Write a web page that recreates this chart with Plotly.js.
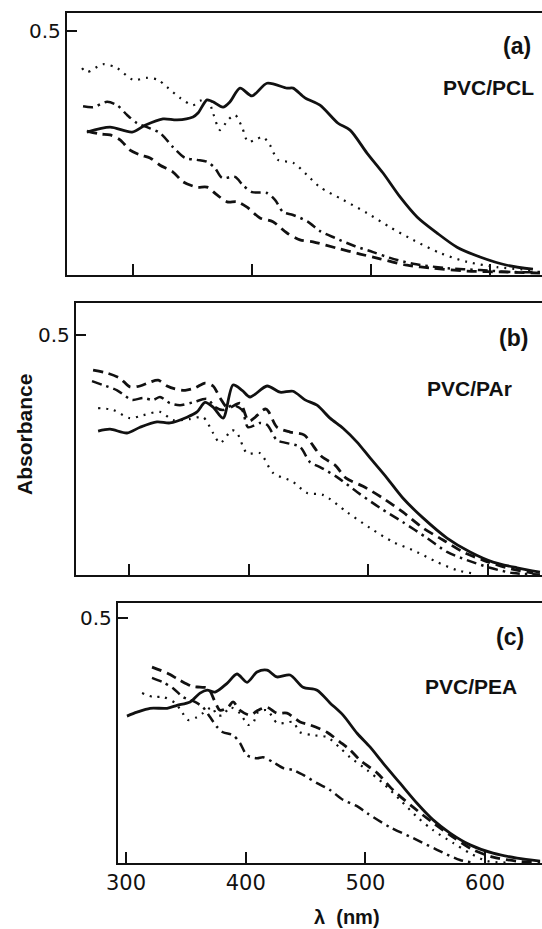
<!DOCTYPE html>
<html>
<head>
<meta charset="utf-8">
<script src="https://cdn.plot.ly/plotly-3.0.1.min.js"></script>
<style>html,body{margin:0;padding:0;background:#fff;}#chart{width:542px;height:929px;}</style>
</head>
<body>
<div id="chart"></div>
<script>
// ---------- Panel (a) PVC/PCL ----------
const aSolidX = [261.3,280.7,299.2,310.1,325.2,337.0,350.4,354.6,362.2,367.2,375.6,381.5,389.9,400.0,412.6,429.4,434.5,444.5,457.1,472.3,482.4,496.6,510.1,524.4,538.7,555.5,572.3,591.6,614.3,636.1];
const aSolidY = [0.293,0.303,0.293,0.307,0.320,0.318,0.324,0.332,0.359,0.355,0.344,0.355,0.383,0.367,0.393,0.383,0.383,0.363,0.348,0.311,0.297,0.250,0.209,0.160,0.119,0.086,0.057,0.037,0.020,0.012];
const aDotX = [257.1,261.3,274.8,286.6,300.0,311.8,321.0,328.6,339.5,350.4,356.3,363.0,367.2,373.1,379.8,385.7,391.6,396.6,402.5,409.2,415.1,421.8,434.5,448.7,457.1,476.5,496.6,516.0,535.3,558.0,580.7,605.9,636.1];
const aDotY = [0.424,0.416,0.432,0.424,0.400,0.404,0.400,0.385,0.363,0.348,0.357,0.359,0.332,0.297,0.318,0.328,0.303,0.273,0.277,0.283,0.266,0.236,0.230,0.199,0.180,0.154,0.127,0.098,0.072,0.045,0.027,0.016,0.010];
const aDashDotX = [258.0,266.4,278.2,286.6,295.0,303.4,311.8,322.7,333.6,343.7,353.8,362.2,368.9,374.8,385.7,392.4,400.0,412.6,419.3,426.1,434.5,447.1,457.1,469.7,486.6,501.7,516.0,535.3,563.9,591.6,619.3,642.0];
const aDashDotY = [0.346,0.344,0.355,0.348,0.328,0.311,0.303,0.291,0.262,0.240,0.236,0.232,0.219,0.199,0.201,0.184,0.170,0.168,0.154,0.129,0.123,0.109,0.090,0.076,0.059,0.047,0.035,0.023,0.014,0.010,0.006,0.006];
const aDashX = [261.3,272.3,280.7,289.1,297.5,305.9,314.3,322.7,333.6,342.0,353.8,362.2,370.6,379.0,387.4,395.8,406.7,417.6,429.4,440.3,451.3,471.4,490.8,507.6,530.3,552.1,580.7,614.3,642.0];
const aDashY = [0.295,0.289,0.287,0.277,0.256,0.246,0.240,0.225,0.211,0.191,0.180,0.180,0.164,0.150,0.150,0.139,0.117,0.109,0.086,0.072,0.068,0.055,0.043,0.033,0.020,0.014,0.008,0.006,0.004];

// ---------- Panel (b) PVC/PAr ----------
const bSolidX = [274.1,284.1,298.3,309.2,323.4,334.3,348.5,356.9,363.6,370.3,378.7,387.0,394.6,401.3,415.5,426.4,437.2,447.3,457.3,468.2,479.1,490.8,501.7,515.9,529.3,546.0,566.1,585.4,604.6,624.7,643.9];
const bSolidY = [0.300,0.304,0.296,0.308,0.319,0.317,0.329,0.340,0.360,0.350,0.327,0.396,0.385,0.371,0.394,0.381,0.383,0.365,0.354,0.327,0.306,0.277,0.244,0.202,0.160,0.119,0.077,0.048,0.027,0.015,0.006];
const bDashX = [269.9,281.6,292.5,300.8,309.2,317.6,324.3,331.8,338.5,346.9,355.2,363.6,370.3,376.2,382.8,392.9,400.4,414.6,423.8,434.7,446.4,460.7,472.4,481.6,495.8,512.6,529.3,546.0,562.8,579.5,596.2,616.3,638.1];
const bDashY = [0.427,0.421,0.410,0.392,0.394,0.402,0.406,0.394,0.388,0.385,0.390,0.400,0.394,0.369,0.348,0.358,0.321,0.346,0.308,0.298,0.292,0.248,0.229,0.202,0.185,0.160,0.131,0.098,0.073,0.048,0.031,0.015,0.004];
const bDashDotX = [269.0,278.2,290.0,302.5,311.7,320.1,325.9,334.3,342.7,353.6,365.3,372.0,378.7,387.0,394.6,399.6,409.6,415.5,423.8,432.2,443.1,451.5,459.8,474.1,490.8,510.0,529.3,549.4,566.1,582.8,602.1,621.3,643.9];
const bDashDotY = [0.404,0.396,0.385,0.365,0.369,0.365,0.371,0.358,0.354,0.360,0.367,0.350,0.344,0.354,0.344,0.308,0.317,0.313,0.281,0.275,0.267,0.235,0.225,0.204,0.173,0.140,0.110,0.077,0.048,0.031,0.015,0.004,0.001];
const bDotX = [274.1,286.6,300.8,311.7,325.9,336.8,351.0,361.9,370.3,376.2,386.2,390.4,398.7,409.6,420.5,437.2,449.0,462.3,482.4,501.7,520.9,541.0,557.7,574.5,591.2];
const bDotY = [0.348,0.344,0.327,0.333,0.340,0.323,0.325,0.329,0.296,0.275,0.302,0.296,0.254,0.254,0.213,0.194,0.171,0.167,0.131,0.098,0.069,0.048,0.027,0.010,0.002];

// ---------- Panel (c) PVC/PEA ----------
const cSolidX = [300.8,309.2,320.1,334.3,342.6,353.5,361.8,367.7,374.4,384.4,392.7,401.1,409.4,417.8,426.1,437.0,447.9,459.6,470.4,481.3,493.0,503.8,514.7,528.9,543.1,556.5,570.7,587.4,606.6,626.6,645.9];
const cSolidY = [0.300,0.308,0.316,0.316,0.322,0.329,0.347,0.353,0.349,0.367,0.386,0.369,0.390,0.394,0.380,0.384,0.359,0.353,0.327,0.302,0.265,0.237,0.204,0.163,0.122,0.088,0.061,0.037,0.020,0.010,0.004];
const cDashX = [321.7,334.3,345.1,355.1,361.8,368.5,374.4,378.5,385.2,389.4,395.2,403.6,410.3,417.8,426.1,434.5,445.4,453.7,467.9,478.8,487.1,495.5,509.7,523.1,539.8,556.5,573.2,589.9,606.6,629.2,645.9];
const cDashY = [0.400,0.388,0.373,0.361,0.359,0.357,0.329,0.312,0.318,0.329,0.312,0.302,0.312,0.318,0.306,0.306,0.288,0.282,0.267,0.247,0.231,0.210,0.184,0.149,0.114,0.082,0.053,0.027,0.012,0.003,0.001];
const cDashDotX = [321.7,330.9,339.3,347.6,357.6,364.3,370.2,376.0,381.0,389.4,395.2,401.1,409.4,414.5,422.8,431.2,439.5,447.9,459.6,470.4,481.3,493.0,501.3,520.6,539.8,559.8,579.0,589.9];
const cDashDotY = [0.378,0.369,0.357,0.339,0.329,0.318,0.298,0.278,0.267,0.261,0.245,0.220,0.214,0.216,0.206,0.194,0.190,0.180,0.163,0.149,0.129,0.116,0.102,0.073,0.051,0.027,0.006,0.001];
const cDotX = [313.4,322.6,330.9,340.9,346.8,351.8,359.3,364.3,371.8,376.0,381.0,386.9,395.2,401.9,406.1,410.3,417.8,426.1,432.8,439.5,445.4,456.2,467.9,478.8,487.1,501.3,514.7,528.9,543.1,556.5,573.2,587.4,601.6,618.3];
const cDotY = [0.347,0.339,0.339,0.327,0.308,0.292,0.298,0.306,0.318,0.302,0.302,0.318,0.306,0.282,0.286,0.308,0.312,0.286,0.286,0.288,0.267,0.261,0.257,0.235,0.216,0.190,0.163,0.129,0.094,0.067,0.041,0.020,0.004,0.001];

// ---------- Text ----------
const panelTags = ['(a)', '(b)', '(c)'];
const panelNames = ['PVC/PCL', 'PVC/PAr', 'PVC/PEA'];
const xTickVals = [300, 400, 500, 600];
const xTickText = ['300', '400', '500', '600'];
const yTickVals = [0.5];
const yTickText = ['0.5'];

const FONT = 'DejaVu Sans, Liberation Sans, Arial, sans-serif';
const LFONT = 'Liberation Sans, Arial, Helvetica, sans-serif';
const INK = '#111111';
const STY = {
  solid:   {color: INK, width: 2.8, dash: 'solid'},
  dash:    {color: INK, width: 2.8, dash: '10px,6px'},
  dashdot: {color: INK, width: 2.5, dash: '10px,5px,2.5px,5px'},
  dot:     {color: INK, width: 2.2, dash: '2px,6px'}
};
function tr(x, y, st, ax) {
  return {x: x, y: y, type: 'scatter', mode: 'lines', line: Object.assign({shape: 'spline', smoothing: 0.8}, STY[st]),
          xaxis: ax[0], yaxis: ax[1], hoverinfo: 'skip', showlegend: false};
}
const A = ['x', 'y'], B = ['x2', 'y2'], C = ['x3', 'y3'];
const data = [
  tr(aDotX, aDotY, 'dot', A), tr(aDashDotX, aDashDotY, 'dashdot', A), tr(aDashX, aDashY, 'dash', A), tr(aSolidX, aSolidY, 'solid', A),
  tr(bDotX, bDotY, 'dot', B), tr(bDashDotX, bDashDotY, 'dashdot', B), tr(bDashX, bDashY, 'dash', B), tr(bSolidX, bSolidY, 'solid', B),
  tr(cDotX, cDotY, 'dot', C), tr(cDashDotX, cDashDotY, 'dashdot', C), tr(cDashX, cDashY, 'dash', C), tr(cSolidX, cSolidY, 'solid', C)
];

function xax(domain, range, anchor, labels) {
  return {domain: domain, range: range, anchor: anchor, tickmode: 'array', tickvals: xTickVals, ticktext: xTickText,
    showticklabels: labels, ticks: 'inside', ticklen: 11, tickwidth: 2, tickcolor: INK,
    showline: true, linewidth: 2.2, linecolor: INK, mirror: true, showgrid: false, zeroline: false,
    tickfont: {family: FONT, size: 21, color: INK}, fixedrange: true};
}
function yax(domain, range, anchor) {
  return {domain: domain, range: range, anchor: anchor, tickmode: 'array', tickvals: yTickVals, ticktext: yTickText,
    ticks: 'inside', ticklen: 10, tickwidth: 2, tickcolor: INK,
    showline: true, linewidth: 2.2, linecolor: INK, showgrid: false, zeroline: false,
    tickfont: {family: FONT, size: 20, color: INK}, fixedrange: true};
}
const W = 542, H = 929;
function ann(text, px, py, size, angle) {
  return {text: '<b>' + text + '</b>', x: px / W, y: 1 - py / H, xref: 'paper', yref: 'paper', showarrow: false,
          xanchor: 'center', yanchor: 'middle', textangle: angle || 0, font: {family: LFONT, size: size, color: INK}};
}
const layout = {
  width: W, height: H, margin: {l: 0, r: 0, t: 0, b: 0},
  paper_bgcolor: '#fff', plot_bgcolor: '#fff', showlegend: false,
  xaxis:  xax([67 / W, 1], [244.5, 643.7], 'y', false),
  yaxis:  yax([1 - 275 / H, 1 - 13 / H], [0, 0.537], 'x'),
  xaxis2: xax([76 / W, 1], [255.6, 645.6], 'y2', false),
  yaxis2: yax([1 - 575 / H, 1 - 303 / H], [0, 0.567], 'x2'),
  xaxis3: xax([118 / W, 1], [293.3, 647.5], 'y3', true),
  yaxis3: yax([1 - 863 / H, 1 - 603 / H], [0, 0.531], 'x3'),
  annotations: [
    ann(panelTags[0], 517, 46, 23), ann(panelNames[0], 488, 88, 21),
    ann(panelTags[1], 513, 338, 23), ann(panelNames[1], 469, 388, 21),
    ann(panelTags[2], 510, 637, 23), ann(panelNames[2], 471, 686, 21),
    ann('Absorbance', 25, 435, 21, -90),
    ann('λ  (nm)', 347, 917, 20)
  ]
};
Plotly.newPlot('chart', data, layout, {displayModeBar: false, staticPlot: true});
</script>
</body>
</html>
